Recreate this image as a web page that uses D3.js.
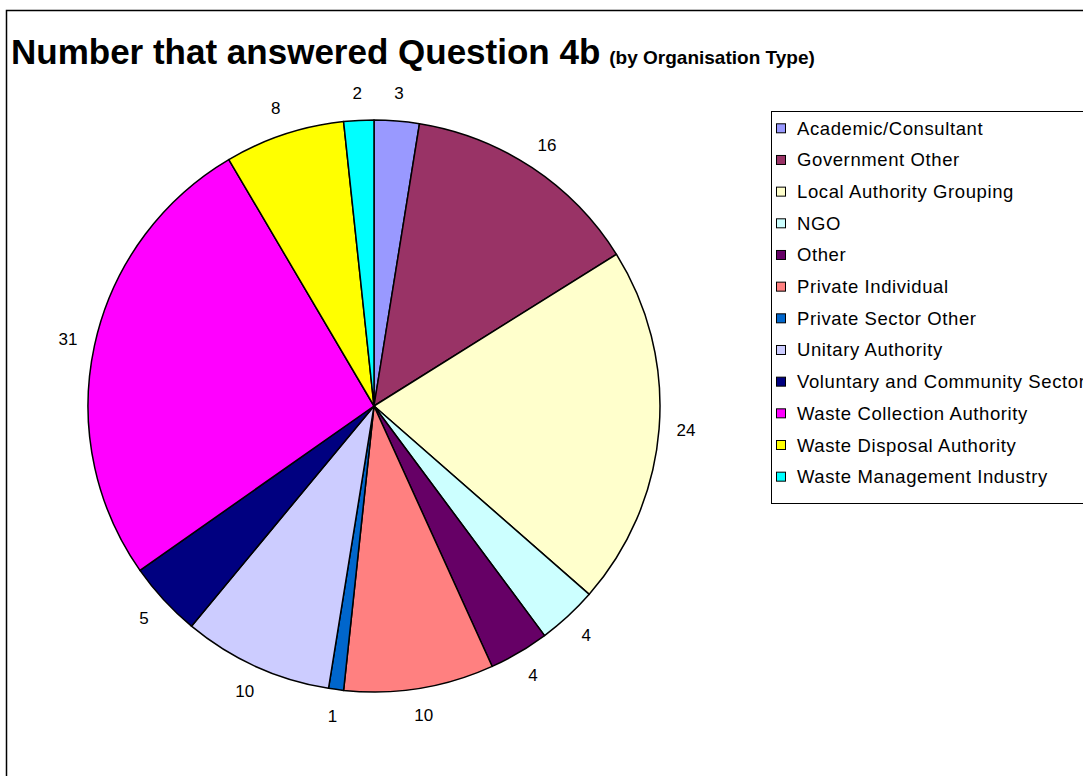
<!DOCTYPE html>
<html>
<head>
<meta charset="utf-8">
<script src="https://cdn.jsdelivr.net/npm/d3@7"></script>
<style>
  html, body { margin: 0; padding: 0; background: #fff; }
  svg { display: block; font-family: Arial, "Liberation Sans", sans-serif; }
</style>
</head>
<body>
<svg id="chart" width="1083" height="776"></svg>
<script>
// Respondents to Question 4b, by organisation type
const categories = [
  "Academic/Consultant",
  "Government Other",
  "Local Authority Grouping",
  "NGO",
  "Other",
  "Private Individual",
  "Private Sector Other",
  "Unitary Authority",
  "Voluntary and Community Sector",
  "Waste Collection Authority",
  "Waste Disposal Authority",
  "Waste Management Industry"
];
const counts = [3, 16, 24, 4, 4, 10, 1, 10, 5, 31, 8, 2];
const sliceColors = [
  "#9999FF", "#993366", "#FFFFCC", "#CCFFFF", "#660066", "#FF8080",
  "#0066CC", "#CCCCFF", "#000080", "#FF00FF", "#FFFF00", "#00FFFF"
];

const svg = d3.select("#chart");

// Outer chart frame (runs past the right and bottom edges)
svg.append("rect")
  .attr("x", 6.5).attr("y", 10.5)
  .attr("width", 1300).attr("height", 1000)
  .attr("fill", "#fff").attr("stroke", "#000").attr("stroke-width", 1.5);

// Title
const title = svg.append("text")
  .attr("x", 11).attr("y", 64)
  .attr("fill", "#000");
title.append("tspan")
  .attr("font-size", 35).attr("font-weight", "bold")
  .text("Number that answered Question 4b");
title.append("tspan")
  .attr("font-size", 19).attr("font-weight", "bold")
  .attr("dx", 9)
  .text("(by Organisation Type)");

// Pie
const cx = 374, cy = 406, radius = 286;
const data = categories.map((c, i) => ({ name: c, value: counts[i], color: sliceColors[i] }));
const pie = d3.pie().value(d => d.value).sort(null);
const arcs = pie(data);
const arc = d3.arc().innerRadius(0).outerRadius(radius);
const labelArc = d3.arc().innerRadius(313).outerRadius(313);

const g = svg.append("g").attr("transform", `translate(${cx},${cy})`);
g.selectAll("path.slice")
  .data(arcs)
  .join("path")
  .attr("class", "slice")
  .attr("d", arc)
  .attr("fill", d => d.data.color)
  .attr("stroke", "#000")
  .attr("stroke-width", 1.5)
  .attr("stroke-linejoin", "round");

g.selectAll("text.value")
  .data(arcs)
  .join("text")
  .attr("class", "value")
  .attr("transform", d => `translate(${labelArc.centroid(d)})`)
  .attr("text-anchor", "middle")
  .attr("dominant-baseline", "central")
  .attr("font-size", 17)
  .attr("fill", "#000")
  .text(d => d.data.value);

// Legend
const legendX = 771, legendY = 111, rowH = 31.67;
svg.append("rect")
  .attr("x", legendX + 0.5).attr("y", legendY + 0.5)
  .attr("width", 400).attr("height", 392)
  .attr("fill", "#fff").attr("stroke", "#000").attr("stroke-width", 1);

const rows = svg.selectAll("g.legend-row")
  .data(data)
  .join("g")
  .attr("class", "legend-row")
  .attr("transform", (d, i) => `translate(${legendX}, ${legendY + 17.3 + i * rowH})`);
rows.append("rect")
  .attr("x", 5.5).attr("y", -4.5)
  .attr("width", 9).attr("height", 9)
  .attr("fill", d => d.color)
  .attr("stroke", "#000").attr("stroke-width", 1);
rows.append("text")
  .attr("x", 26).attr("y", 0)
  .attr("dominant-baseline", "central")
  .attr("font-size", 18.5)
  .attr("letter-spacing", 0.6)
  .attr("fill", "#000")
  .text(d => d.name);
</script>
</body>
</html>
